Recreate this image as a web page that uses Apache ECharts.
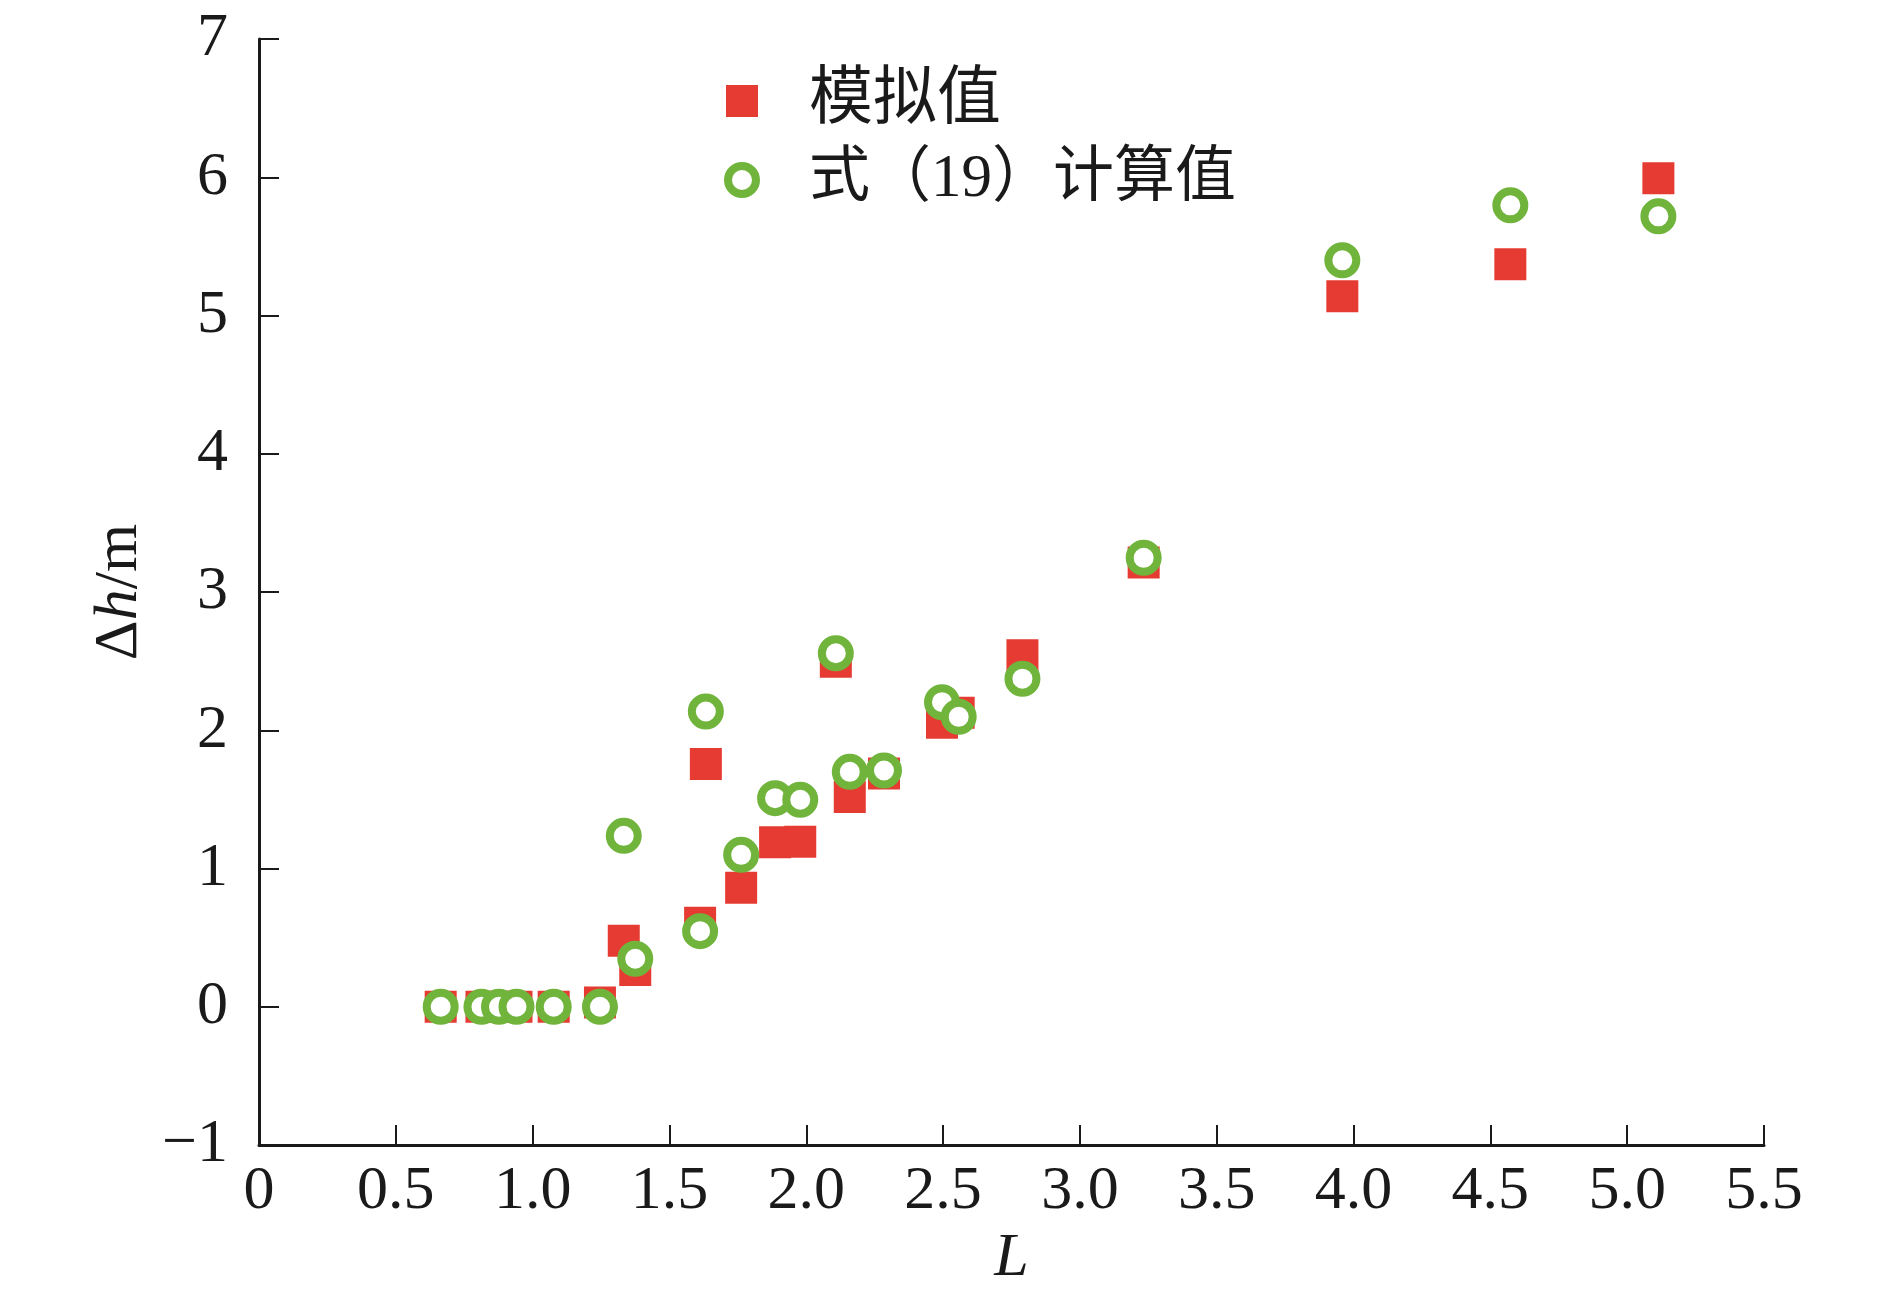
<!DOCTYPE html>
<html>
<head>
<meta charset="utf-8">
<title>Δh - L</title>
<script src="https://cdn.jsdelivr.net/npm/echarts@6/dist/echarts.min.js"></script>
<style>
  html, body { margin: 0; padding: 0; background: #fff; }
  #chart { width: 1890px; height: 1302px; }
</style>
</head>
<body>
<div id="chart"></div>
<script>
// L values (shared by both series)
const lengthL = [0.664, 0.813, 0.877, 0.941, 1.077, 1.246, 1.333, 1.375, 1.612, 1.633, 1.762, 1.886,
  1.978, 2.108, 2.159, 2.284, 2.496, 2.557, 2.790, 3.233, 3.959, 4.573, 5.114]
// 模拟值
const simulated = [0, 0, 0, 0, 0, 0.03, 0.477, 0.265, 0.607, 1.755, 0.86, 1.189,
  1.193, 2.495, 1.518, 1.688, 2.054, 2.126, 2.543, 3.213, 5.139, 5.37, 5.992]
// 式（19）计算值
const formula19 = [0, 0, 0, 0, 0, 0, 1.236, 0.347, 0.547, 2.136, 1.099, 1.509,
  1.497, 2.557, 1.699, 1.709, 2.203, 2.097, 2.373, 3.247, 5.399, 5.797, 5.717]

const seriesNames = ['模拟值', '式（19）计算值']
const xTicks = { min: 0, max: 5.5, step: 0.5 }
const yTicks = { min: -1, max: 7, step: 1 }

const red = '#E63B32'
const green = '#70B43C'
const ink = '#1a1a1a'
const serif = '"Liberation Serif", "Noto Sans CJK SC", serif'

const chart = echarts.init(document.getElementById('chart'))

const pairs = (xs, ys) => xs.map((x, i) => [x, ys[i]])

const legendText = (pad, size) => ({
  color: ink,
  fontFamily: serif,
  fontSize: size,
  lineHeight: 64,
  padding: [0, 0, 0, pad]
})

chart.setOption({
  backgroundColor: '#fff',
  animation: false,
  grid: {
    left: 259,
    right: 126,
    top: 39,
    bottom: 157,
    containLabel: false
  },
  legend: [
    {
      data: [{ name: seriesNames[0], icon: 'rect' }],
      left: 726,
      top: 69,
      padding: 0,
      itemWidth: 32,
      itemHeight: 32,
      selectedMode: false,
      textStyle: legendText(46, 64)
    },
    {
      data: [{ name: seriesNames[1], icon: 'circle' }],
      left: 724,
      top: 148,
      padding: 0,
      itemWidth: 28,
      itemHeight: 28,
      selectedMode: false,
      itemStyle: { color: '#fff', borderColor: green, borderWidth: 8 },
      textStyle: legendText(48, 61)
    }
  ],
  xAxis: {
    type: 'value',
    min: xTicks.min,
    max: xTicks.max,
    interval: xTicks.step,
    name: 'L',
    nameLocation: 'middle',
    nameGap: 80,
    nameTextStyle: { color: ink, fontFamily: serif, fontStyle: 'italic', fontSize: 62 },
    axisLine: { onZero: false, lineStyle: { color: ink, width: 3 } },
    axisTick: { inside: true, length: 20, lineStyle: { color: ink, width: 2 } },
    axisLabel: {
      color: ink,
      fontFamily: serif,
      fontSize: 62,
      margin: 16,
      formatter: v => (v === 0 ? '0' : v.toFixed(1))
    },
    splitLine: { show: false }
  },
  yAxis: {
    type: 'value',
    min: yTicks.min,
    max: yTicks.max,
    interval: yTicks.step,
    name: '{a|Δ}{i|h}{a|/m}',
    nameLocation: 'middle',
    nameGap: 90,
    nameTextStyle: {
      rich: {
        a: { color: ink, fontFamily: serif, fontSize: 62 },
        i: { color: ink, fontFamily: serif, fontSize: 62, fontStyle: 'italic' }
      }
    },
    axisLine: { onZero: false, lineStyle: { color: ink, width: 3 } },
    axisTick: { inside: true, length: 20, lineStyle: { color: ink, width: 2 } },
    axisLabel: {
      color: ink,
      fontFamily: serif,
      fontSize: 62,
      margin: 31,
      formatter: v => String(v).replace('-', '\u2212')
    },
    splitLine: { show: false }
  },
  series: [
    {
      name: seriesNames[0],
      type: 'scatter',
      symbol: 'rect',
      symbolSize: 32,
      itemStyle: { color: red, opacity: 1 },
      data: pairs(lengthL, simulated)
    },
    {
      name: seriesNames[1],
      type: 'scatter',
      symbol: 'circle',
      symbolSize: 28,
      itemStyle: { color: '#fff', borderColor: green, borderWidth: 8, opacity: 1 },
      data: pairs(lengthL, formula19)
    }
  ]
})
</script>
</body>
</html>
